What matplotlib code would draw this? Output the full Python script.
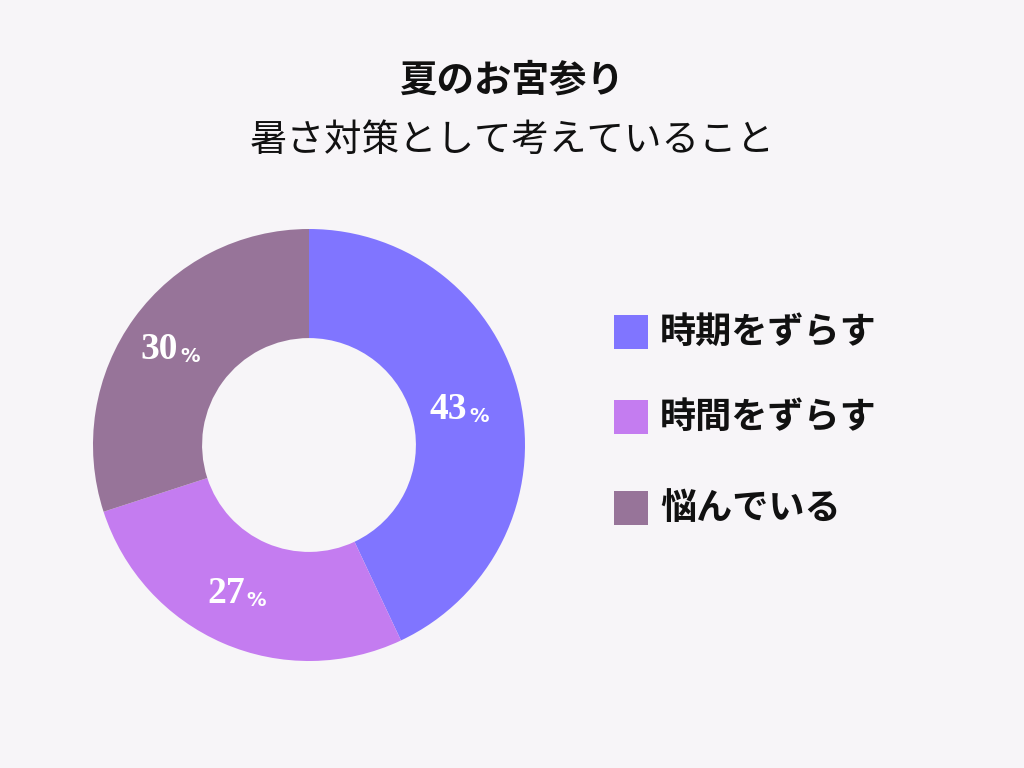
import matplotlib
matplotlib.use("Agg")
import matplotlib.pyplot as plt
from matplotlib.patches import Rectangle

categories = ["時期をずらす", "時間をずらす", "悩んでいる"]
values = [43, 27, 30]
colors = ["#8075FF", "#C47CF0", "#977499"]
title = "夏のお宮参り"
subtitle = "暑さ対策として考えていること"

plt.rcParams['font.family'] = ['Noto Sans CJK JP', 'DejaVu Sans']
bg = "#F7F5F8"
fig = plt.figure(figsize=(10.24, 7.68), dpi=100, facecolor=bg)

cx, cy, R = 309, 445, 216
size = 2 * R
ax = fig.add_axes([(cx - R) / 1024, (768 - cy - R) / 768, size / 1024, size / 768])
ax.set_facecolor(bg)
wedges, texts, autotexts = ax.pie(values, colors=colors, startangle=90, counterclock=False,
       radius=1.0, wedgeprops=dict(width=0.505, edgecolor='none'),
       autopct=lambda p: "", pctdistance=0.75)
import numpy as np
ang = 90
for v, w in zip(values, wedges):
    mid = np.deg2rad(ang - v * 3.6 / 2)
    ang -= v * 3.6
    x, y = 0.75 * np.cos(mid), 0.75 * np.sin(mid)
    ax.text(x, y, f"{v}", ha='right', va='center', color='white', fontsize=27,
            family='Liberation Serif', fontweight='bold')
    ax.text(x + 0.01, y - 0.03, "%", ha='left', va='center', color='white', fontsize=14,
            family='DejaVu Sans', fontweight='bold')
ax.set_xlim(-1, 1); ax.set_ylim(-1, 1); ax.set_aspect('equal'); ax.axis('off')

fig.text(0.5, 1 - 80 / 768, title, ha='center', va='center', fontsize=27, fontweight='bold', color='#111111')
fig.text(0.5, 1 - 140 / 768, subtitle, ha='center', va='center', fontsize=27, color='#111111')

ys = [332, 417, 508]
for c, lab, y in zip(colors, categories, ys):
    fig.patches.append(Rectangle((614 / 1024, 1 - (y + 17) / 768), 34 / 1024, 34 / 768,
                                 transform=fig.transFigure, facecolor=c, edgecolor='none'))
    fig.text(660 / 1024, 1 - y / 768, lab, ha='left', va='center', fontsize=26,
             fontweight='bold', color='#111111')

fig.savefig("out.png", dpi=100, facecolor=bg)
